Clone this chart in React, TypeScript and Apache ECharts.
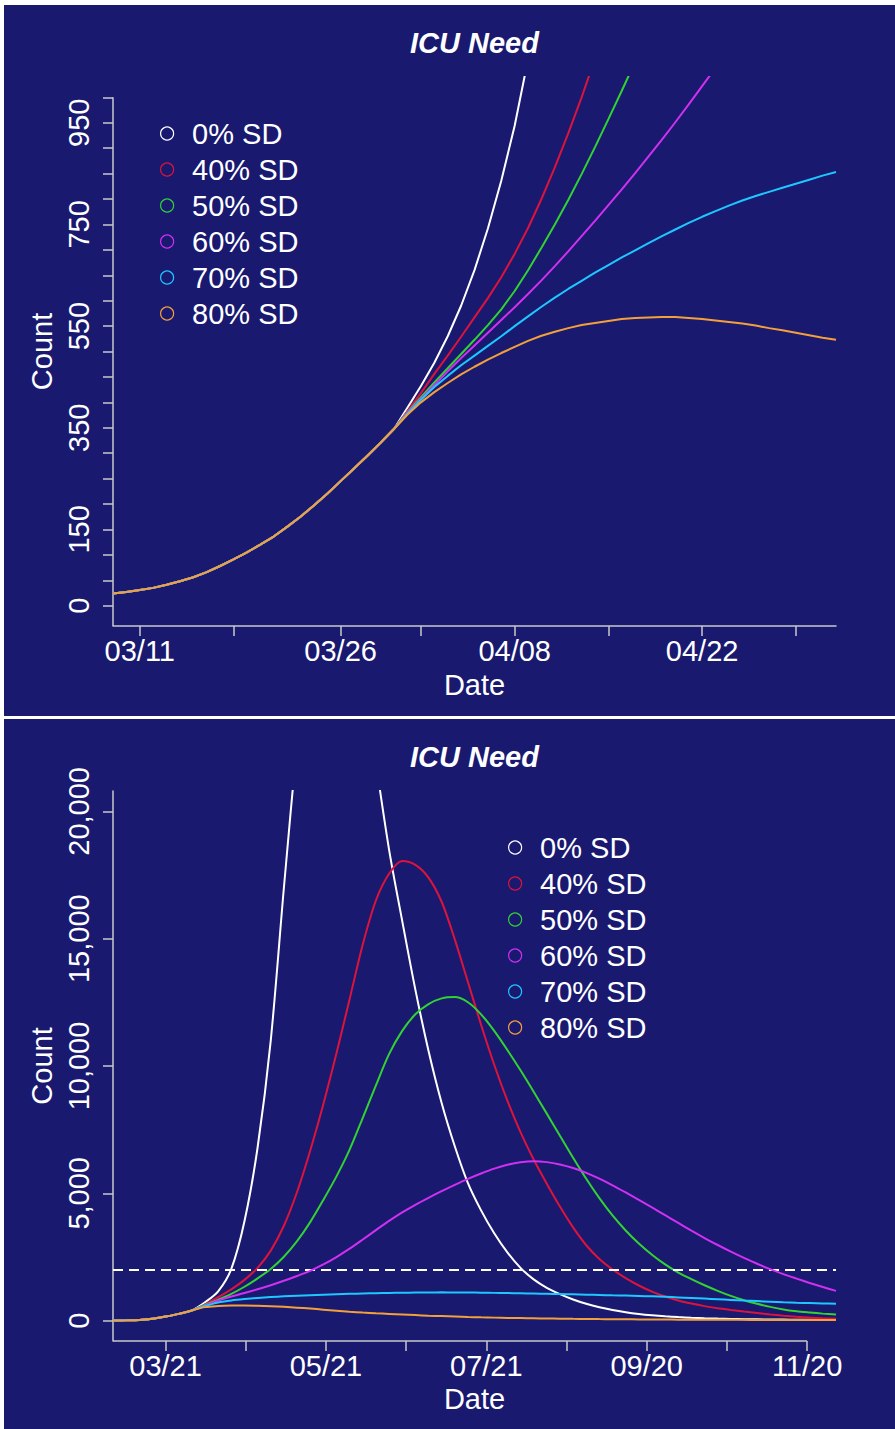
import React, { useEffect, useRef } from 'react';
import * as echarts from 'echarts';

const FONT = "'Liberation Sans', Arial, Helvetica, sans-serif";
const BG = '#191970';
const AXIS = '#c8c8cc';

const seriesNames = ['0% SD', '40% SD', '50% SD', '60% SD', '70% SD', '80% SD'];
const seriesColors = ['#ffffff', '#dc143c', '#32d232', '#d030f0', '#1ec8ff', '#f4a03a'];

// ---------- Top chart (days counted from 03/11) ----------
const topDays = [-2, -1, 0, 1, 2, 3, 4, 5, 6, 7, 8, 9, 10, 11, 12, 13, 14, 15, 16, 17, 18, 19, 20, 21, 22, 23, 24, 25, 26, 27, 28, 29, 30, 31, 32, 33, 34, 35, 36, 37, 38, 39, 40, 41, 42, 43, 44, 45, 46, 47, 48, 49, 50, 51, 52];
const topShared = [24, 27, 31, 35, 41, 48, 56, 66, 78, 91, 105, 120, 136, 155, 175, 197, 220, 245, 270, 295, 321, 348];
const top0 = [390, 432, 478, 530, 590, 660, 742, 836, 944, 1075];
const top40 = [383, 418, 456, 492, 529, 567, 605, 646, 692, 743, 800, 862, 929, 1000, 1076];
const top50 = [381, 410, 439, 467, 495, 523, 552, 583, 619, 660, 704, 750, 798, 849, 902, 957, 1013, 1070];
const top60 = [380, 407, 434, 461, 487, 512, 537, 562, 587, 613, 640, 668, 697, 727, 757, 788, 819, 851, 884, 917, 951, 986, 1022, 1058];
const top70 = [378, 405, 430, 452, 473, 492, 511, 530, 550, 569, 588, 606, 623, 639, 655, 670, 685, 699, 713, 727, 740, 753, 765, 776, 787, 797, 806, 814, 822, 830, 838, 846, 853];
const top80 = [376, 400, 420, 438, 455, 470, 484, 497, 509, 521, 531, 539, 546, 552, 556, 560, 564, 566, 567, 568, 568, 566, 564, 561, 558, 555, 551, 546, 542, 537, 532, 527, 523];
const topTails = [top0, top40, top50, top60, top70, top80];
const topXTicks = [0, 7, 15, 21, 28, 35, 42, 49];
const topXLabelDays = [0, 15, 28, 42];
const topXLabelText = ['03/11', '03/26', '04/08', '04/22'];
const topYTicks = [0, 50, 100, 150, 200, 250, 300, 350, 400, 450, 500, 550, 600, 650, 700, 750, 800, 850, 900, 950, 1000];
const topYLabels = [0, 150, 350, 550, 750, 950];

// ---------- Bottom chart (days counted from 03/21) ----------
const bottomDays = [-20, -15, -10, -5, 0, 5, 10, 15, 20, 25, 30, 35, 40, 45, 50, 55, 60, 65, 70, 75, 80, 85, 90, 95, 100, 105, 110, 115, 120, 125, 130, 135, 140, 145, 150, 155, 160, 165, 170, 175, 180, 185, 190, 195, 200, 205, 210, 215, 220, 225, 230, 235, 240, 245, 250, 255];
const bottomShared = [4, 10, 25, 70, 160, 265, 400];
const bot0 = [720, 1150, 2030, 3900, 6800, 11000, 17000, 22700, 28000, 30600, 30300, 28300, 25300, 21900, 18500, 15700, 13000, 10600, 8550, 6850, 5400, 4330, 3430, 2680, 2070, 1620, 1290, 1040, 830, 660, 525, 418, 333, 265, 212, 170, 138, 113, 94, 79, 68, 59, 52, 46, 41, 37, 33, 30, 28];
const bot40 = [640, 920, 1225, 1600, 2075, 2750, 3725, 5050, 6675, 8500, 10500, 12625, 14775, 16500, 17550, 18050, 17900, 17400, 16450, 14975, 13300, 11620, 10050, 8640, 7400, 6330, 5380, 4480, 3660, 2960, 2420, 2010, 1670, 1380, 1140, 945, 790, 670, 570, 490, 420, 358, 300, 245, 195, 155, 120, 92, 70];
const bot50 = [615, 820, 1050, 1330, 1660, 2030, 2510, 3120, 3870, 4740, 5665, 6715, 7965, 9240, 10465, 11380, 12030, 12430, 12655, 12705, 12505, 12030, 11380, 10630, 9830, 8990, 8130, 7260, 6400, 5570, 4810, 4130, 3540, 3030, 2590, 2210, 1890, 1630, 1390, 1170, 970, 800, 660, 540, 440, 370, 320, 275, 236];
const bot60 = [595, 790, 950, 1085, 1230, 1390, 1565, 1755, 1955, 2205, 2495, 2825, 3185, 3555, 3915, 4250, 4550, 4825, 5085, 5335, 5570, 5780, 5970, 6120, 6220, 6260, 6225, 6135, 5995, 5805, 5575, 5315, 5035, 4745, 4445, 4140, 3835, 3535, 3245, 2970, 2710, 2465, 2235, 2020, 1825, 1650, 1480, 1320, 1170];
const bot70 = [575, 715, 790, 845, 890, 925, 955, 980, 1000, 1020, 1038, 1052, 1065, 1077, 1087, 1096, 1102, 1107, 1110, 1108, 1104, 1098, 1090, 1082, 1074, 1064, 1054, 1045, 1033, 1020, 1008, 995, 983, 970, 953, 935, 913, 890, 865, 840, 815, 790, 767, 745, 724, 705, 690, 676, 665];
const bot80 = [530, 572, 590, 594, 585, 566, 542, 510, 472, 432, 390, 350, 318, 290, 264, 240, 217, 195, 177, 160, 144, 130, 118, 108, 99, 90, 83, 76, 70, 65, 60, 56, 52, 48, 45, 42, 39, 37, 35, 33, 31, 30, 28, 27, 26, 25, 24, 23, 22];
const bottomTails = [bot0, bot40, bot50, bot60, bot70, bot80];
const icuCapacity = 2000;
const bottomXTicks = [0, 30.5, 61, 91.5, 122, 152.5, 183, 213.5, 244];
const bottomXLabelDays = [0, 61, 122, 183, 244];
const bottomXLabelText = ['03/21', '05/21', '07/21', '09/20', '11/20'];
const bottomYTicks = [0, 5000, 10000, 15000, 20000];

const txt = (extra: any = {}) => ({ color: '#ffffff', fontSize: 29, fontFamily: FONT, ...extra });

function buildOption(cfg: any) {
  const series: any[] = cfg.tails.map((tail: number[], i: number) => {
    const vals = cfg.shared.concat(tail);
    return {
      name: seriesNames[i],
      type: 'line',
      data: vals.map((v: number, k: number) => [cfg.days[k], v]),
      showSymbol: false,
      symbol: 'none',
      smooth: cfg.smooth,
      clip: true,
      silent: true,
      lineStyle: { color: seriesColors[i], width: 2 },
      itemStyle: { color: seriesColors[i] },
      z: 2 + i,
    };
  });
  if (cfg.capacity != null) {
    series[series.length - 1].markLine = {
      silent: true,
      symbol: 'none',
      label: { show: false },
      lineStyle: { color: '#ffffff', type: [10, 6], width: 2 },
      data: [{ yAxis: cfg.capacity }],
    };
  }
  return {
    animation: false,
    backgroundColor: BG,
    title: {
      text: 'ICU Need',
      left: 470.5,
      top: 23,
      textAlign: 'center',
      padding: 0,
      textStyle: txt({ fontWeight: 'bold', fontStyle: 'italic' }),
    },
    legend: {
      orient: 'vertical',
      left: cfg.legendLeft,
      top: 114,
      padding: 0,
      itemWidth: 40,
      itemHeight: 13,
      itemGap: 7,
      icon: 'circle',
      selectedMode: false,
      textStyle: txt({ lineHeight: 29 }),
      data: seriesNames.map((n, i) => ({
        name: n,
        icon: 'circle',
        itemStyle: { color: 'transparent', borderColor: seriesColors[i], borderWidth: 1.2 },
      })),
    },
    grid: { left: 109, top: 72, width: 723, height: cfg.gridHeight },
    xAxis: {
      type: 'value',
      min: cfg.xMin,
      max: cfg.xMax,
      name: 'Date',
      nameLocation: 'middle',
      nameGap: cfg.xNameGap,
      nameTextStyle: txt(),
      axisLine: { show: cfg.xLineFull, onZero: false, lineStyle: { color: AXIS, width: 1.5 } },
      axisTick: { show: true, length: 10, customValues: cfg.xTicks, lineStyle: { color: AXIS, width: 1.5 } },
      axisLabel: {
        customValues: cfg.xLabelDays,
        margin: 10,
        ...txt(),
        formatter: (v: number) => {
          const k = cfg.xLabelDays.indexOf(v);
          return k >= 0 ? cfg.xLabelText[k] : '';
        },
      },
      splitLine: { show: false },
    },
    yAxis: {
      type: 'value',
      min: cfg.yMin,
      max: cfg.yMax,
      name: 'Count',
      nameLocation: 'middle',
      nameGap: 47,
      nameTextStyle: txt(),
      axisLine: { show: cfg.yLineFull, onZero: false, lineStyle: { color: AXIS, width: 1.5 } },
      axisTick: { show: true, length: 10, customValues: cfg.yTicks, lineStyle: { color: AXIS, width: 1.5 } },
      axisLabel: {
        customValues: cfg.yLabels,
        rotate: 90,
        margin: 20,
        ...txt(),
        formatter: (v: number) => v.toLocaleString('en-US'),
      },
      splitLine: { show: false },
    },
    series,
  };
}

const topCfg = {
  days: topDays, shared: topShared, tails: topTails, smooth: false,
  xMin: -2, xMax: 52, yMin: -40, yMax: 1040, gridHeight: 549,
  xTicks: topXTicks, xLabelDays: topXLabelDays, xLabelText: topXLabelText,
  yTicks: topYTicks, yLabels: topYLabels, xNameGap: 44, legendLeft: 156,
  xLineFull: true, yLineFull: false, capacity: null,
  partialLine: { from: [-2, 1000], to: [-2, -40] },
};

const bottomCfg = {
  days: bottomDays, shared: bottomShared, tails: bottomTails, smooth: 0.3,
  xMin: -20, xMax: 255, yMin: -800, yMax: 20800, gridHeight: 550,
  xTicks: bottomXTicks, xLabelDays: bottomXLabelDays, xLabelText: bottomXLabelText,
  yTicks: bottomYTicks, yLabels: bottomYTicks, xNameGap: 43, legendLeft: 504,
  xLineFull: false, yLineFull: true, capacity: icuCapacity,
  partialLine: { from: [-20, -800], to: [244, -800] },
};

function Panel({ cfg, style }: { cfg: any; style: React.CSSProperties }) {
  const ref = useRef<HTMLDivElement>(null);
  useEffect(() => {
    if (!ref.current) return;
    const chart = echarts.init(ref.current, null, { renderer: 'svg' });
    chart.setOption(buildOption(cfg));
    const a = chart.convertToPixel({ xAxisIndex: 0, yAxisIndex: 0 }, cfg.partialLine.from) as number[];
    const b = chart.convertToPixel({ xAxisIndex: 0, yAxisIndex: 0 }, cfg.partialLine.to) as number[];
    chart.setOption({
      graphic: [
        {
          type: 'line',
          silent: true,
          shape: { x1: a[0], y1: a[1], x2: b[0], y2: b[1] },
          style: { stroke: AXIS, lineWidth: 1.5 },
          z: 1,
        },
      ],
    });
    return () => chart.dispose();
  }, [cfg]);
  return <div ref={ref} style={style} />;
}

export default function App() {
  return (
    <div style={{ position: 'absolute', left: 0, top: 0, width: 895, height: 1429, background: '#ffffff', overflow: 'hidden' }}>
      <Panel cfg={topCfg} style={{ position: 'absolute', left: 4, top: 5, width: 891, height: 711 }} />
      <Panel cfg={bottomCfg} style={{ position: 'absolute', left: 4, top: 719, width: 891, height: 710 }} />
    </div>
  );
}
